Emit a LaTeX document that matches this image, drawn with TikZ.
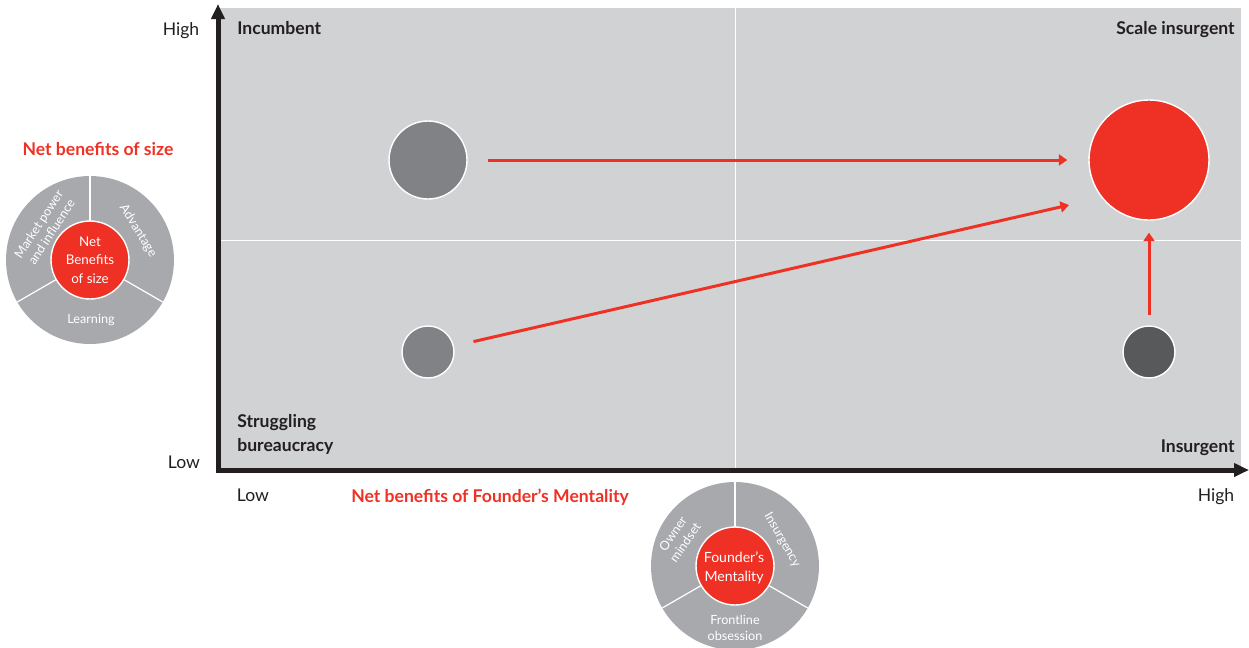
\documentclass[tikz,border=0pt]{standalone}
\usepackage{fontspec}
\setmainfont{Lato}
\usetikzlibrary{arrows.meta,calc}
\definecolor{panel}{HTML}{D1D2D4}
\definecolor{wheel}{HTML}{A7A9AC}
\definecolor{bred}{HTML}{EE3124}
\definecolor{dark}{HTML}{58595B}
\definecolor{mid}{HTML}{808285}
\definecolor{axis}{HTML}{231F20}
\tikzset{
  px/.style={x=0.02cm,y=-0.02cm},
  dot/.style={circle,inner sep=0pt,draw=white,line width=0.8pt},
  redarrow/.style={draw=bred,line width=1.7pt,-{Triangle[length=0.17cm,width=0.22cm]}},
  axisline/.style={draw=axis,line width=0.1cm,-{Triangle[length=0.3cm,width=0.26cm]}},
  quad/.style={font=\fontsize{10}{13.7}\selectfont\bfseries,text=axis,inner sep=0pt},
  axlab/.style={font=\fontsize{10}{12}\selectfont,text=axis,inner sep=0pt},
  redtitle/.style={font=\fontsize{10}{12}\selectfont\bfseries,text=bred,inner sep=0pt},
  wheeltxt/.style={font=\fontsize{7.2}{8.6}\selectfont,text=white,align=center,inner sep=0pt},
  innertxt/.style={font=\fontsize{7.6}{10.5}\selectfont,text=white,align=center,inner sep=0pt},
  divider/.style={draw=white,line width=0.7pt}
}
\begin{document}
\begin{tikzpicture}[px]
\useasboundingbox (0,0) rectangle (1249,647);
% panel
\fill[panel] (218,8) rectangle (1241,470);
\draw[white,line width=0.5pt] (735,8) -- (735,470);
\draw[white,line width=0.5pt] (218,240) -- (1241,240);
% axes
\coordinate (origin) at (218,470);
\coordinate (ytop) at (218,4);
\coordinate (xend) at (1249,470);
\draw[axisline] ($(origin)+(0,2.5)$) -- (ytop);
\draw[axisline] ($(origin)+(-2.5,0)$) -- (xend);
% quadrant labels
\node[quad,anchor=base west] (incl) at (237,34) {Incumbent};
\node[quad,anchor=base east] (scl) at (1235,34) {Scale insurgent};
\node[quad,anchor=west,align=left] (strl) at (237,434) {Struggling\\bureaucracy};
\node[quad,anchor=base east] (insl) at (1235,452) {Insurgent};
% axis labels
\node[axlab,anchor=base] (yhigh) at (181,35) {High};
\node[axlab,anchor=base] (ylow) at (184,468) {Low};
\node[axlab,anchor=base] (xlow) at (253,501) {Low};
\node[axlab,anchor=base] (xhigh) at (1216,501) {High};
\node[redtitle,anchor=base] (xtitle) at (490,502) {Net benefits of Founder’s Mentality};
\node[redtitle,anchor=base] (ytitle) at (98,155) {Net benefits of size};
% bubbles
\node[dot,fill=mid,minimum size=1.56cm] (inc) at (428,160) {};
\node[dot,fill=mid,minimum size=1.04cm] (strug) at (428,352) {};
\node[dot,fill=dark,minimum size=1.04cm] (ins) at (1149,352) {};
\node[dot,fill=bred,minimum size=2.4cm] (scale) at (1149,160) {};
\coordinate (t2) at (1069,205);
% arrows
\draw[redarrow,shorten <=0.4cm,shorten >=0.42cm] (inc) -- (scale);
\draw[redarrow,shorten <=0.4cm] (strug) -- (t2);
\draw[redarrow,shorten <=0.2cm,shorten >=0.24cm] (ins) -- (scale);
% left wheel
\coordinate (L) at (90,260);
\node[circle,fill=wheel,inner sep=0pt,minimum size=3.36cm] (Lw) at (L) {};
\draw[divider] (L) -- ($(L)+(270:84)$);
\draw[divider] (L) -- ($(L)+(30:84)$);
\draw[divider] (L) -- ($(L)+(150:84)$);
\node[dot,fill=bred,minimum size=1.56cm] (Lin) at (L) {};
\node[innertxt] (Lint) at (90,260) {Net\\Benefits\\of size};
\node[wheeltxt,rotate=57] (Lmp) at (45,228) {Market power\\and influence};
\node[wheeltxt,rotate=-58] (Ladv) at (138,231) {Advantage};
\node[wheeltxt] (Llrn) at (91,320) {Learning};
% bottom wheel
\coordinate (B) at (735,566);
\node[circle,fill=wheel,inner sep=0pt,minimum size=3.36cm] (Bw) at (B) {};
\draw[divider] (B) -- ($(B)+(270:84)$);
\draw[divider] (B) -- ($(B)+(30:84)$);
\draw[divider] (B) -- ($(B)+(150:84)$);
\node[dot,fill=bred,minimum size=1.56cm] (Bin) at (B) {};
\node[innertxt,font=\fontsize{8}{10.8}\selectfont] (Bint) at (734,568) {Founder’s\\Mentality};
\node[wheeltxt,rotate=55] (Bown) at (679,538) {Owner\\mindset};
\node[wheeltxt,rotate=-60] (Bins) at (782,540) {Insurgency};
\node[wheeltxt,font=\fontsize{7.2}{9}\selectfont] (Bfro) at (735,628) {Frontline\\obsession};
\end{tikzpicture}
\end{document}
